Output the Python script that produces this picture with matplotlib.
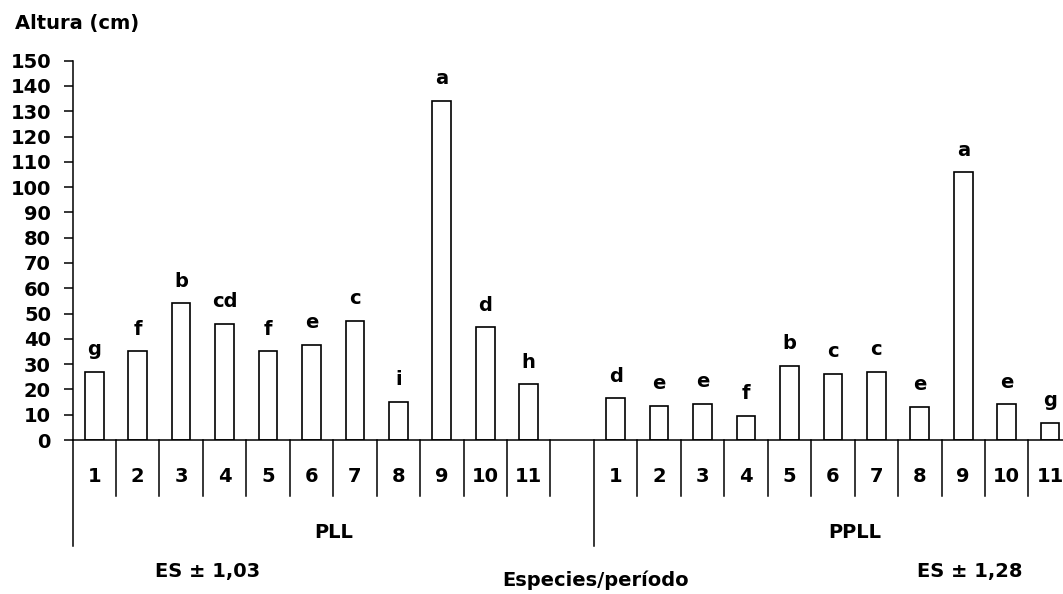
import matplotlib
matplotlib.use("Agg")
import matplotlib.pyplot as plt
import numpy as np

plt.rcParams['font.family'] = ['DejaVu Sans']
plt.rcParams['font.weight'] = 'bold'

species = ['1', '2', '3', '4', '5', '6', '7', '8', '9', '10', '11']
pll_values = [27, 35, 54, 46, 35, 37.6, 47, 15, 134, 44.5, 22]
ppll_values = [16.5, 13.4, 14.2, 9.5, 29.3, 26.1, 27, 13.2, 105.8, 14.1, 6.9]
pll_letters = ['g', 'f', 'b', 'cd', 'f', 'e', 'c', 'i', 'a', 'd', 'h']
ppll_letters = ['d', 'e', 'e', 'f', 'b', 'c', 'c', 'e', 'a', 'e', 'g']
groups = ['PLL', 'PPLL']
es_labels = ['ES ± 1,03', 'ES ± 1,28']
y_ticks = list(range(0, 151, 10))

W, H = 1063, 594
fig = plt.figure(figsize=(W / 100, H / 100), dpi=100)
ax_left, ax_right = 72.5, 1063
ax_top, ax_bot = 60.7, 440
ax = fig.add_axes([ax_left / W, 1 - ax_bot / H, (ax_right - ax_left) / W, (ax_bot - ax_top) / H])

slot_px = 43.45
n_slots_visible = (ax_right - ax_left) / slot_px

pll_x = np.arange(len(species)) + 0.5
ppll_x = np.arange(len(species)) + 12 + 0.5
bw = 0.43
fs = 14

ax.bar(pll_x, pll_values, width=bw, color='white', edgecolor='black', linewidth=1.2)
ax.bar(ppll_x, ppll_values, width=bw, color='white', edgecolor='black', linewidth=1.2)

for x, v, l in zip(pll_x, pll_values, pll_letters):
    ax.annotate(l, (x, v), xytext=(0, 12), textcoords='offset points', ha='center',
                va='baseline', fontsize=fs, fontweight='bold')
for x, v, l in zip(ppll_x, ppll_values, ppll_letters):
    ax.annotate(l, (x, v), xytext=(0, 12), textcoords='offset points', ha='center',
                va='baseline', fontsize=fs, fontweight='bold')

ax.set_xlim(0, n_slots_visible)
ax.set_ylim(0, 150)
ax.set_yticks(y_ticks)
ax.set_yticklabels([str(t) for t in y_ticks], fontsize=fs, fontweight='bold')
ax.tick_params(axis='y', direction='out', length=6.5, width=1.1, pad=9)
ax.set_xticks([])
for s in ['top', 'right']:
    ax.spines[s].set_visible(False)
ax.spines['left'].set_linewidth(1.1)
ax.spines['bottom'].set_linewidth(1.1)

trans = ax.get_xaxis_transform()
axh = ax_bot - ax_top
def yfrac(py):
    return (ax_bot - py) / axh

# separators
for i in range(1, 24):
    if i == 12:
        continue
    ax.plot([i, i], [0, yfrac(496)], transform=trans, color='black', lw=1.1, clip_on=False)
for i in [0, 12]:
    ax.plot([i, i], [0, yfrac(546)], transform=trans, color='black', lw=1.1, clip_on=False)

# category numbers
for x, s in zip(pll_x, species):
    ax.text(x, yfrac(477), s, transform=trans, ha='center', va='center', fontsize=fs, fontweight='bold')
for x, s in zip(ppll_x, species):
    ax.text(x, yfrac(477), s, transform=trans, ha='center', va='center', fontsize=fs, fontweight='bold',
            clip_on=False)

# group labels
ax.text(6.0, yfrac(533), groups[0], transform=trans, ha='center', va='center', fontsize=fs, fontweight='bold')
ax.text(18.0, yfrac(533), groups[1], transform=trans, ha='center', va='center', fontsize=fs, fontweight='bold')

fig.text(208 / W, 1 - 571 / H, es_labels[0], ha='center', va='center', fontsize=fs, fontweight='bold')
fig.text(970 / W, 1 - 571 / H, es_labels[1], ha='center', va='center', fontsize=fs, fontweight='bold')
fig.text(596 / W, 1 - 580 / H, 'Especies/período', ha='center', va='center', fontsize=fs, fontweight='bold')
fig.text(15 / W, 1 - 23 / H, 'Altura (cm)', ha='left', va='center', fontsize=fs, fontweight='bold')

fig.savefig('out.png', dpi=100)
